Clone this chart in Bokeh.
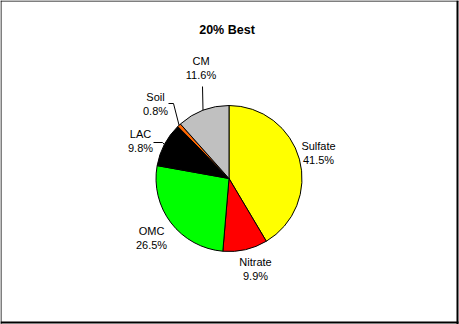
import math
from bokeh.plotting import figure
from bokeh.models import Range1d, ColumnDataSource
from bokeh.core.properties import value
from bokeh.embed import file_html
from bokeh.resources import INLINE

# Composition of the 20% best days
categories = ["Sulfate", "Nitrate", "OMC", "LAC", "Soil", "CM"]
percents = [41.5, 9.9, 26.5, 9.8, 0.8, 11.6]
colors = ["#FFFF00", "#FF0000", "#00FF00", "#000000", "#FF6600", "#C0C0C0"]
title_text = "20% Best"

W, H = 459, 324
FONT = "Liberation Sans"

# pie geometry (pixels, y measured from the top of the canvas)
CX, CY_TOP, R = 228.5, 178.0, 73.0


def Y(ys):
    """Convert a top-down pixel row into the upward data axis."""
    return H - ys


p = figure(width=W, height=H, output_backend="svg", toolbar_location=None,
           x_range=Range1d(0, W), y_range=Range1d(0, H),
           x_axis_type=None, y_axis_type=None, min_border=0)
p.grid.visible = False
p.outline_line_color = None
p.background_fill_color = "white"
p.border_fill_color = "white"

# slices run clockwise from 12 o'clock
total = sum(percents)
starts, ends, mids = [], [], []
cum = 0.0
for v in percents:
    a0 = math.pi / 2 - 2 * math.pi * cum / total
    cum += v
    a1 = math.pi / 2 - 2 * math.pi * cum / total
    starts.append(a0)
    ends.append(a1)
    mids.append((a0 + a1) / 2)

src = ColumnDataSource(dict(start=starts, end=ends, color=colors, cat=categories))
p.wedge(x=CX, y=Y(CY_TOP), radius=R, start_angle="start", end_angle="end",
        direction="clock", fill_color="color", line_color="black",
        line_width=1, source=src)

# label placement: (x center, first-line row) in pixels
label_pos = {
    "Sulfate": (318, 145),
    "Nitrate": (255, 261),
    "OMC": (151, 230),
    "LAC": (140, 133),
    "Soil": (155, 96),
    "CM": (200.5, 60),
}
lx, ly1, ly2, t1, t2 = [], [], [], [], []
for c, v in zip(categories, percents):
    x, y = label_pos[c]
    lx.append(x)
    ly1.append(Y(y))
    ly2.append(Y(y + 14))
    t1.append(c)
    t2.append(f"{v:.1f}%")

for ys, ts in ((ly1, t1), (ly2, t2)):
    p.text(x=lx, y=ys, text=ts, text_font=value(FONT), text_font_size="11px",
           text_align="center", text_baseline="middle", text_color="black")

# leader lines for the small slices near the top-left
elbows = {
    "CM": [(202.0, 86.0)],
    "Soil": [(173.0, 103.0), (168.0, 103.0)],
    "LAC": [(162.0, 142.0), (153.0, 142.0)],
}
for c, pts in elbows.items():
    i = categories.index(c)
    ex = CX + R * math.cos(mids[i])
    ey = Y(CY_TOP) + R * math.sin(mids[i])
    xs = [ex] + [q[0] for q in pts]
    ys = [ey] + [Y(q[1]) for q in pts]
    p.line(xs, ys, line_color="black", line_width=1)

# title
p.text(x=[W / 2 - 3], y=[Y(29.5)], text=[title_text], text_font=value(FONT),
       text_font_size="12.5px", text_font_style="bold", text_align="center",
       text_baseline="middle", text_color="black")

# frame around the chart, heavier on the right and bottom edges
p.segment(x0=[0.5, 0, 457, 0], y0=[0, Y(0.5), 0, Y(322)],
          x1=[0.5, 458, 457, 458], y1=[Y(0), Y(0.5), Y(0), Y(322)],
          line_color="black", line_width=[1, 1, 2, 2])

open("out.html", "w").write(file_html(p, INLINE))
